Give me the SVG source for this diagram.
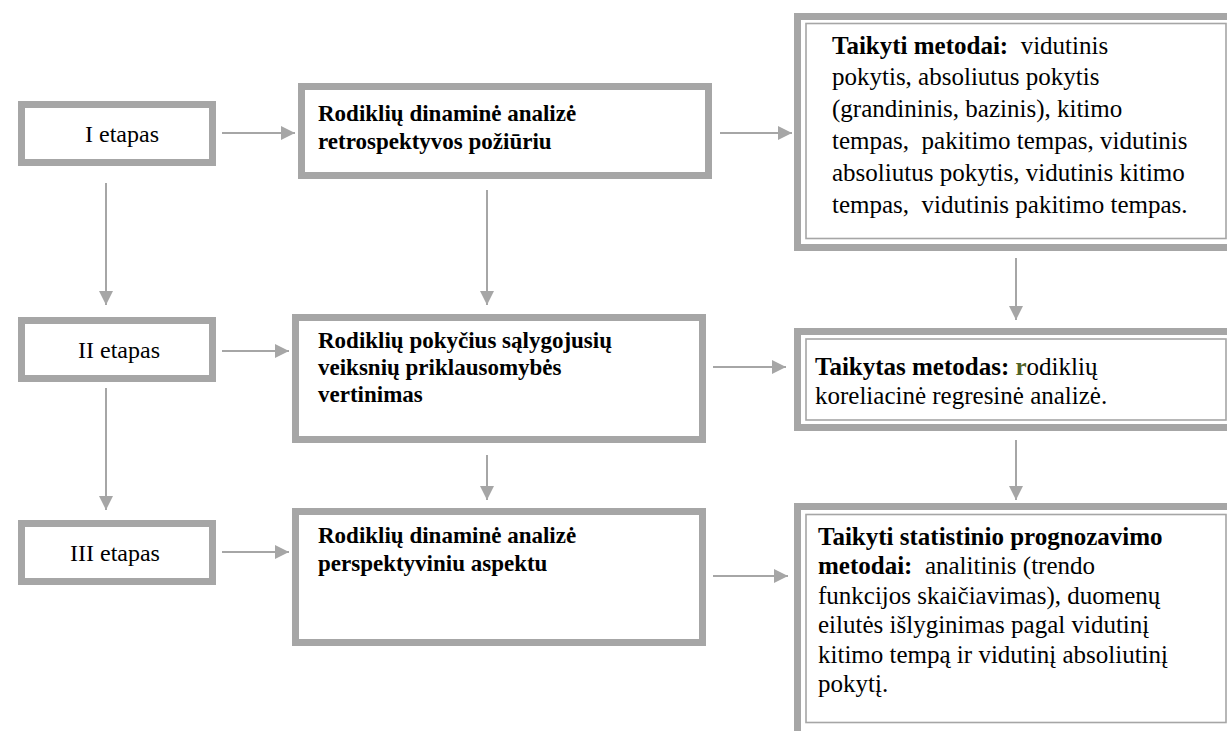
<svg xmlns="http://www.w3.org/2000/svg" width="1227" height="731" viewBox="0 0 1227 731">
<defs>
<style>
.box{fill:#fff;stroke:#a6a6a6;stroke-width:7}
.thin{fill:none;stroke:#a6a6a6;stroke-width:1.6}
.conn{stroke:#a6a6a6;stroke-width:2;fill:none;marker-end:url(#ah)}
text{font-family:"Liberation Serif","Times New Roman",serif;font-size:25px;fill:#000;white-space:pre}
.b{font-weight:bold}
.c{text-anchor:middle;font-size:24px}
.m{font-weight:bold;font-size:23px}
</style>
<marker id="ah" viewBox="0 0 10 10" refX="10" refY="5" markerWidth="14" markerHeight="14" markerUnits="userSpaceOnUse" orient="auto">
<path d="M0,0 L10,5 L0,10 z" fill="#a6a6a6"/>
</marker>
</defs>
<rect width="1227" height="731" fill="#fff"/>

<g id="connectors">
<line class="conn" x1="222" y1="133" x2="295" y2="133"/>
<line class="conn" x1="720" y1="133" x2="792" y2="133"/>
<line class="conn" x1="106" y1="183" x2="106" y2="305"/>
<line class="conn" x1="487" y1="190" x2="487" y2="305"/>
<line class="conn" x1="1016" y1="258" x2="1016" y2="320"/>
<line class="conn" x1="222" y1="351" x2="289" y2="351"/>
<line class="conn" x1="713" y1="367" x2="786" y2="367"/>
<line class="conn" x1="106" y1="388" x2="106" y2="510"/>
<line class="conn" x1="487" y1="455" x2="487" y2="500"/>
<line class="conn" x1="1016" y1="440" x2="1016" y2="500"/>
<line class="conn" x1="222" y1="552" x2="289" y2="552"/>
<line class="conn" x1="713" y1="576" x2="788" y2="576"/>
</g>

<g id="stage1">
<rect class="box" x="21.5" y="104.5" width="191" height="58"/>
<text class="c" x="122" y="142">I etapas</text>
</g>
<g id="stage2">
<rect class="box" x="21.5" y="320.5" width="191" height="58"/>
<text class="c" x="119" y="358">II etapas</text>
</g>
<g id="stage3">
<rect class="box" x="21.5" y="523.5" width="191" height="58"/>
<text class="c" x="115" y="561">III etapas</text>
</g>

<g id="analysis1">
<rect class="box" x="301.5" y="86.5" width="407" height="89"/>
<text class="m" x="318" y="121">Rodiklių dinaminė analizė</text>
<text class="m" x="318" y="149">retrospektyvos požiūriu</text>
</g>
<g id="analysis2">
<rect class="box" x="295.5" y="317.5" width="407" height="122"/>
<text class="m" x="318" y="348">Rodiklių pokyčius sąlygojusių</text>
<text class="m" x="318" y="375">veiksnių priklausomybės</text>
<text class="m" x="318" y="402">vertinimas</text>
</g>
<g id="analysis3">
<rect class="box" x="295.5" y="511.5" width="407" height="131"/>
<text class="m" x="318" y="543">Rodiklių dinaminė analizė</text>
<text class="m" x="318" y="571">perspektyviniu aspektu</text>
</g>

<g id="methods1">
<rect class="box" x="797.5" y="16.5" width="440" height="231"/>
<rect class="thin" x="806" y="23.5" width="420" height="215"/>
<text x="832" y="54"><tspan class="b">Taikyti metodai:</tspan>  vidutinis</text>
<text x="832" y="85">pokytis, absoliutus pokytis</text>
<text x="832" y="117">(grandininis, bazinis), kitimo</text>
<text x="832" y="149">tempas,  pakitimo tempas, vidutinis</text>
<text x="832" y="181">absoliutus pokytis, vidutinis kitimo</text>
<text x="832" y="213">tempas,  vidutinis pakitimo tempas.</text>
</g>
<g id="methods2">
<rect class="box" x="797.5" y="331.5" width="440" height="96"/>
<rect class="thin" x="806" y="339" width="420" height="81"/>
<text x="815" y="375"><tspan class="b">Taikytas metodas: </tspan><tspan class="b" fill="#4f6228">r</tspan>odiklių</text>
<text x="815" y="404">koreliacinė regresinė analizė.</text>
</g>
<g id="methods3">
<rect class="box" x="797.5" y="506.5" width="440" height="230"/>
<rect class="thin" x="806" y="514.5" width="420" height="208"/>
<text class="b" x="818" y="545">Taikyti statistinio prognozavimo</text>
<text x="818" y="574"><tspan class="b">metodai:</tspan>  analitinis (trendo</text>
<text x="818" y="604">funkcijos skaičiavimas), duomenų</text>
<text x="818" y="633">eilutės išlyginimas pagal vidutinį</text>
<text x="818" y="663">kitimo tempą ir vidutinį absoliutinį</text>
<text x="818" y="692">pokytį.</text>
</g>
</svg>
